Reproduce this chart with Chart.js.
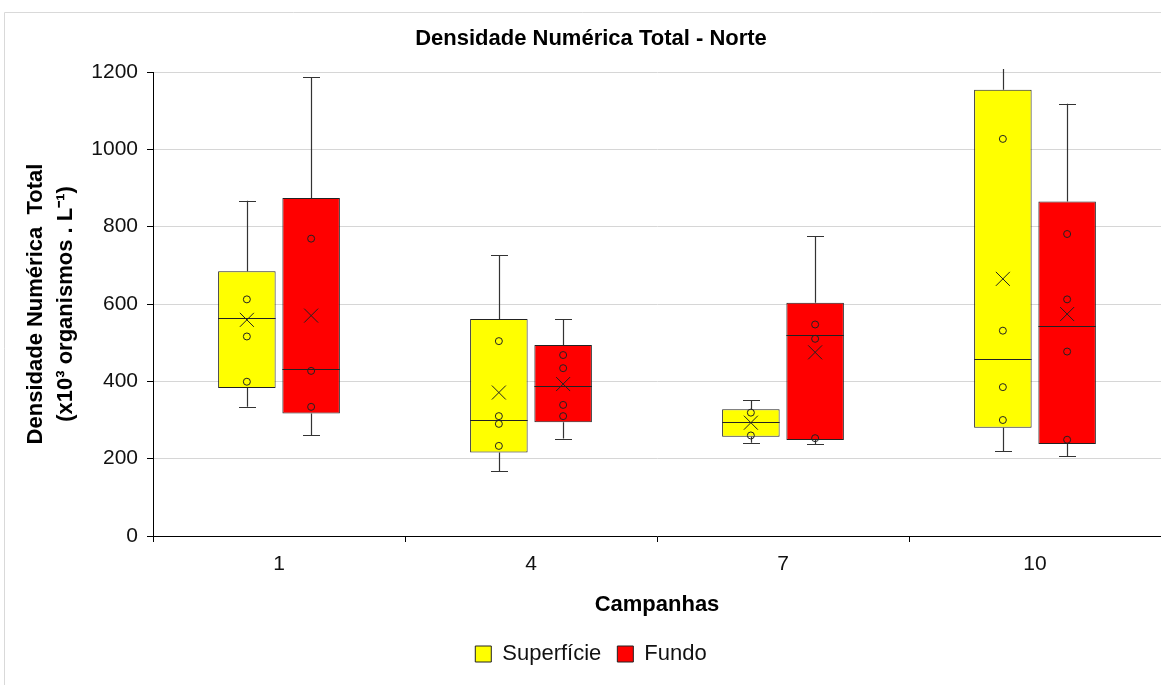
<!DOCTYPE html>
<html>
<head>
<meta charset="utf-8">
<script src="https://cdn.jsdelivr.net/npm/chart.js@4.4.1/dist/chart.umd.min.js"></script>
<style>
  body { margin: 0; background: #fff; }
  #wrap { width: 1161px; height: 685px; position: relative; }
</style>
</head>
<body>
<div id="wrap"><canvas id="boxChart" width="1161" height="685"></canvas></div>
<script>
// campanhas (categorias)
var campanhas = ['1', '4', '7', '10'];

// Superficie
var supMin   = [334, 168, 241, 219];
var supQ1    = [383, 216, 257, 280];
var supMed   = [565, 299, 295, 457];
var supQ3    = [685, 561, 328, 1154];
var supMax   = [867, 727, 352, 1260];
var supMedia = [559, 371, 293, 665];
var supPontos = [[612, 516, 399], [504, 310, 290, 233], [319, 260], [1027, 531, 385, 300]];

// Fundo
var fundoMin   = [260, 252, 238, 207];
var fundoQ1    = [317, 294, 248, 238];
var fundoMed   = [431, 387, 519, 544];
var fundoQ3    = [874, 494, 603, 865];
var fundoMax   = [1186, 561, 775, 1118];
var fundoMedia = [570, 393, 475, 574];
var fundoPontos = [[769, 427, 334], [468, 434, 339, 310], [547, 510, 253], [781, 612, 477, 249]];

var yTicks = [0, 200, 400, 600, 800, 1000, 1200];

var series = [
  { label: 'Superfície', cor: '#FFFF00', q1: supQ1, q3: supQ3, min: supMin, max: supMax, med: supMed, media: supMedia, pontos: supPontos },
  { label: 'Fundo', cor: '#FF0000', q1: fundoQ1, q3: fundoQ3, min: fundoMin, max: fundoMax, med: fundoMed, media: fundoMedia, pontos: fundoPontos }
];

function caixas(s) {
  var out = [];
  for (var i = 0; i < s.q1.length; i++) {
    out.push([s.q1[i], s.q3[i]]);
  }
  return out;
}

var moldura = {
  id: 'moldura',
  beforeDraw: function(chart) {
    var ctx = chart.ctx;
    ctx.save();
    ctx.fillStyle = '#fff';
    ctx.fillRect(0, 0, chart.width, chart.height);
    ctx.strokeStyle = '#d9d9d9';
    ctx.lineWidth = 1;
    ctx.beginPath();
    ctx.moveTo(4.5, chart.height);
    ctx.lineTo(4.5, 12.5);
    ctx.lineTo(chart.width, 12.5);
    ctx.stroke();
    ctx.restore();
  }
};

var bigodes = {
  id: 'bigodes',
  beforeDatasetsDraw: function(chart) {
    var ctx = chart.ctx, y = chart.scales.y, area = chart.chartArea;
    ctx.save();
    ctx.beginPath();
    ctx.rect(area.left, area.top - 3, area.right - area.left, area.bottom - area.top + 3);
    ctx.clip();
    ctx.strokeStyle = '#333';
    ctx.lineWidth = 1.2;
    series.forEach(function(s, d) {
      var meta = chart.getDatasetMeta(d);
      meta.data.forEach(function(bar, j) {
        var x = Math.round(bar.x) + 0.5;
        var topo = y.getPixelForValue(s.max[j]);
        var base = y.getPixelForValue(s.min[j]);
        ctx.beginPath();
        ctx.moveTo(x, y.getPixelForValue(s.q3[j]));
        ctx.lineTo(x, topo);
        ctx.moveTo(x, y.getPixelForValue(s.q1[j]));
        ctx.lineTo(x, base);
        ctx.moveTo(x - 8.5, Math.round(topo) + 0.5);
        ctx.lineTo(x + 8.5, Math.round(topo) + 0.5);
        ctx.moveTo(x - 8.5, Math.round(base) + 0.5);
        ctx.lineTo(x + 8.5, Math.round(base) + 0.5);
        ctx.stroke();
      });
    });
    ctx.restore();
  },
  afterDatasetsDraw: function(chart) {
    var ctx = chart.ctx, y = chart.scales.y;
    ctx.save();
    ctx.strokeStyle = '#222';
    ctx.lineWidth = 1;
    series.forEach(function(s, d) {
      var meta = chart.getDatasetMeta(d);
      meta.data.forEach(function(bar, j) {
        var x = bar.x, w = bar.width;
        // mediana
        var ym = Math.round(y.getPixelForValue(s.med[j])) + 0.5;
        ctx.beginPath();
        ctx.moveTo(x - w / 2, ym);
        ctx.lineTo(x + w / 2, ym);
        ctx.stroke();
        // pontos
        s.pontos[j].forEach(function(v) {
          ctx.beginPath();
          ctx.arc(x, y.getPixelForValue(v), 3.5, 0, Math.PI * 2);
          ctx.stroke();
        });
        // media (X)
        var yx = y.getPixelForValue(s.media[j]);
        ctx.beginPath();
        ctx.moveTo(x - 7, yx - 7);
        ctx.lineTo(x + 7, yx + 7);
        ctx.moveTo(x + 7, yx - 7);
        ctx.lineTo(x - 7, yx + 7);
        ctx.stroke();
      });
    });
    ctx.restore();
  }
};

var ctx = document.getElementById('boxChart');
var boxChart = new Chart(ctx, {
  type: 'bar',
  data: {
    labels: campanhas,
    datasets: series.map(function(s) {
      return {
        label: s.label,
        data: caixas(s),
        backgroundColor: s.cor,
        borderColor: '#222',
        borderWidth: 1,
        borderSkipped: false,
        categoryPercentage: 0.51,
        barPercentage: 0.895
      };
    })
  },
  options: {
    responsive: false,
    animation: false,
    layout: { padding: { left: 21, right: 0, top: 0, bottom: 10 } },
    plugins: {
      title: {
        display: true,
        text: 'Densidade Numérica Total - Norte',
        color: '#000',
        font: { family: 'Liberation Sans, Arial, sans-serif', size: 22, weight: 'bold', lineHeight: 1.2 },
        padding: { top: 26, bottom: 19.6 }
      },
      legend: {
        position: 'bottom',
        labels: {
          color: '#111',
          boxWidth: 16,
          boxHeight: 16,
          padding: 16,
          font: { family: 'Liberation Sans, Arial, sans-serif', size: 22 }
        }
      },
      tooltip: { enabled: false }
    },
    scales: {
      x: {
        grid: { drawOnChartArea: false, tickColor: '#000', tickLength: 6, offset: true },
        border: { color: '#000', width: 1 },
        ticks: { color: '#111', padding: 10, font: { family: 'Liberation Sans, Arial, sans-serif', size: 21 } },
        title: {
          display: true,
          text: 'Campanhas',
          color: '#000',
          font: { family: 'Liberation Sans, Arial, sans-serif', size: 22, weight: 'bold', lineHeight: 1.2 },
          padding: { top: 0, bottom: 9.3 }
        },
        afterFit: function(scale) { scale.height = 91; }
      },
      y: {
        min: 0,
        max: 1200,
        afterBuildTicks: function(scale) {
          scale.ticks = yTicks.map(function(v) { return { value: v }; });
        },
        grid: { color: '#d6d6d6', tickColor: '#000', tickLength: 6 },
        border: { color: '#000', width: 1 },
        ticks: {
          color: '#111',
          padding: 9,
          font: { family: 'Liberation Sans, Arial, sans-serif', size: 21 },
          callback: function(v) { return String(v); }
        },
        title: {
          display: true,
          text: ['Densidade Numérica  Total', '(x10³ organismos . L⁻¹)'],
          color: '#000',
          font: { family: 'Liberation Sans, Arial, sans-serif', size: 22, weight: 'bold', lineHeight: 1.35 },
          padding: { top: 0, bottom: 0 }
        },
        afterFit: function(scale) { scale.width = 132; }
      }
    }
  },
  plugins: [moldura, bigodes]
});
</script>
</body>
</html>
